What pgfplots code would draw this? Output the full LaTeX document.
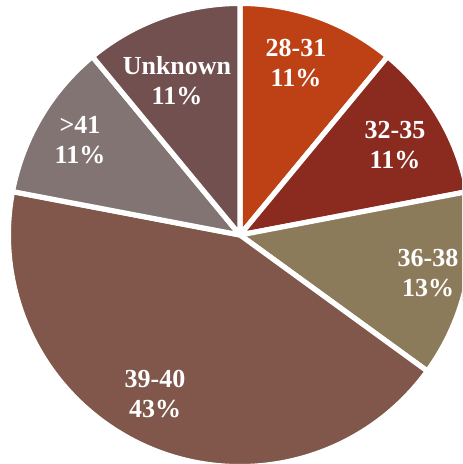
\documentclass[border=0pt]{standalone}
\usepackage{pgfplots}
\pgfplotsset{compat=1.18}
\usepackage{pgfplotstable}
\usepackage{fontspec}
\setmainfont{Liberation Serif}
\definecolor{sA}{HTML}{BE4115}
\definecolor{sB}{HTML}{8B2A1F}
\definecolor{sC}{HTML}{8C7B5B}
\definecolor{sD}{HTML}{80574A}
\definecolor{sE}{HTML}{837474}
\definecolor{sF}{HTML}{735050}

% slices clockwise from 12 o'clock; lx, ly = label centre in picture pixels (from top)
\pgfplotstableread{
label   value col lx  ly
28-31   11    sA  296 63
32-35   11    sB  395 145
36-38   13    sC  428 273
39-40   43    sD  155 394
>41     11    sE  80  140
Unknown 11    sF  177 81
}\piedata

\begin{document}
\begin{tikzpicture}
\begin{axis}[
  xmin=0, xmax=462, ymin=0, ymax=464,
  width=231pt, height=232pt, scale only axis,
  hide axis, clip=true,
]
\coordinate (sw) at (axis cs:0,0);
\coordinate (ne) at (axis cs:462,464);
\pgfplotsextra{
  \pgfplotstablegetrowsof{\piedata}\let\nrows\pgfplotsretval
  \pgfmathtruncatemacro\lastrow{\nrows-1}
  \xdef\startang{90}
  \foreach \i in {0,...,\lastrow}{
    \pgfplotstablegetelem{\i}{value}\of\piedata \let\sliceval\pgfplotsretval
    \pgfplotstablegetelem{\i}{col}\of\piedata \let\slicecol\pgfplotsretval
    \pgfmathsetmacro\endang{\startang-3.6*\sliceval}
    \fill[fill=\slicecol, draw=white, line width=2.6pt, line join=round]
      (axis cs:240,229) -- ++(\startang:115.8pt)
      arc[start angle=\startang, end angle=\endang, radius=115.8pt] -- cycle;
    \xdef\startang{\endang}
  }
  \foreach \i in {0,...,\lastrow}{
    \pgfplotstablegetelem{\i}{value}\of\piedata \let\sliceval\pgfplotsretval
    \pgfplotstablegetelem{\i}{label}\of\piedata \let\slicelab\pgfplotsretval
    \pgfplotstablegetelem{\i}{lx}\of\piedata \let\lx\pgfplotsretval
    \pgfplotstablegetelem{\i}{ly}\of\piedata \let\ly\pgfplotsretval
    \pgfmathsetmacro\lyy{464-\ly}
    \node[text=white, align=center, font=\bfseries\fontsize{13}{15}\selectfont, inner sep=0pt]
      at (axis cs:\lx,\lyy) {\slicelab\\\sliceval\%};
  }
}
\end{axis}
\pgfresetboundingbox
\path (sw) rectangle (ne);
\end{tikzpicture}
\end{document}
